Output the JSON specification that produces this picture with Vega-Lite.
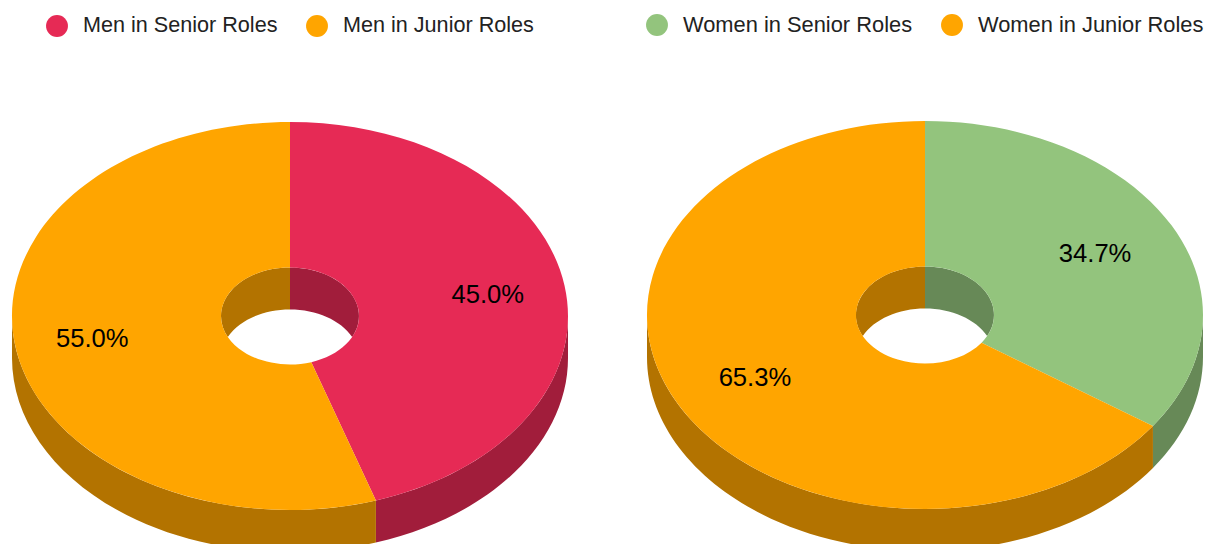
{"$schema":"https://vega.github.io/schema/vega-lite/v6.json","width":1205,"height":544,"padding":0,"autosize":"none","background":"white","config":{"view":{"stroke":null},"font":"Liberation Sans"},
"data":{"values":[
{"pie":"Men","role":"Men in Senior Roles","kind":"senior","share":0.45},
{"pie":"Men","role":"Men in Junior Roles","kind":"junior","share":0.55},
{"pie":"Women","role":"Women in Senior Roles","kind":"senior","share":0.347},
{"pie":"Women","role":"Women in Junior Roles","kind":"junior","share":0.653}]},
"transform":[
{"calculate":"datum.pie=='Men'?290:925","as":"cx"},
{"calculate":"datum.pie=='Men'?316:315","as":"cy"},
{"calculate":"datum.kind=='senior'?0:(1-datum.share)*2*PI","as":"a"},
{"calculate":"datum.kind=='senior'?datum.share*2*PI:2*PI","as":"b"},
{"calculate":"(datum.b-datum.a)>PI?1:0","as":"large"},
{"calculate":"'M'+round(27800*sin(datum.a))/100+' '+round(-19400*cos(datum.a))/100+'A278 194 0 '+datum.large+' 1 '+round(27800*sin(datum.b))/100+' '+round(-19400*cos(datum.b))/100+'L'+round(6900*sin(datum.b))/100+' '+round(-4850*cos(datum.b))/100+'A69 48.5 0 '+datum.large+' 0 '+round(6900*sin(datum.a))/100+' '+round(-4850*cos(datum.a))/100+'Z'","as":"facePath"},
{"calculate":"max(datum.a,PI/2)","as":"w0"},
{"calculate":"min(datum.b,3*PI/2)","as":"w1"},
{"calculate":"'M'+round(27800*sin(datum.w0))/100+' '+round(-19400*cos(datum.w0))/100+'A278 194 0 0 1 '+round(27800*sin(datum.w1))/100+' '+round(-19400*cos(datum.w1))/100+'L'+round(27800*sin(datum.w1))/100+' '+(round(-19400*cos(datum.w1))/100+42)+'A278 194 0 0 0 '+round(27800*sin(datum.w0))/100+' '+(round(-19400*cos(datum.w0))/100+42)+'Z'","as":"wallPath"},
{"calculate":"datum.kind=='senior'?'M0 -48.5A69 48.5 0 0 1 62.2 21A69 48.5 0 0 0 0 -6.5Z':'M0 -48.5A69 48.5 0 0 0 -62.2 21A69 48.5 0 0 1 0 -6.5Z'","as":"holePath"},
{"calculate":"(datum.a+datum.b)/2","as":"mid"},
{"calculate":"datum.pie=='Men'?0.72:0.69","as":"labelRadius"},
{"calculate":"datum.cx+datum.labelRadius*278*sin(datum.mid)","as":"lx"},
{"calculate":"datum.cy-datum.labelRadius*194*cos(datum.mid)","as":"ly"}
],
"encoding":{
"x":{"field":"cx","type":"quantitative","scale":{"domain":[0,1205],"nice":false,"zero":false},"axis":null},
"y":{"field":"cy","type":"quantitative","scale":{"domain":[544,0],"nice":false,"zero":false},"axis":null}
},
"layer":[
{"mark":{"type":"point","filled":true,"opacity":1,"strokeWidth":0,"size":4},
"encoding":{"shape":{"field":"wallPath","type":"nominal","scale":null,"legend":null},
"fill":{"field":"role","type":"nominal","legend":null,"scale":{"domain":["Men in Senior Roles","Men in Junior Roles","Women in Senior Roles","Women in Junior Roles"],"range":["#A11D3B","#B37300","#678957","#B37300"]}}}},
{"mark":{"type":"point","filled":true,"opacity":1,"strokeWidth":0,"size":4},
"encoding":{"shape":{"field":"holePath","type":"nominal","scale":null,"legend":null},
"fill":{"field":"role","type":"nominal","legend":null,"scale":{"domain":["Men in Senior Roles","Men in Junior Roles","Women in Senior Roles","Women in Junior Roles"],"range":["#A11D3B","#B37300","#678957","#B37300"]}}}},
{"transform":[{"filter":"datum.pie=='Men'"}],"mark":{"type":"point","filled":true,"opacity":1,"strokeWidth":0,"size":4},
"encoding":{"shape":{"field":"facePath","type":"nominal","scale":null,"legend":null},
"color":{"field":"role","type":"nominal","scale":{"domain":["Men in Senior Roles","Men in Junior Roles"],"range":["#E62A55","#FFA500"]},
"legend":{"title":null,"orient":"none","legendX":46,"legendY":15,"direction":"horizontal","symbolType":"circle","symbolSize":480,"symbolOpacity":1,"symbolStrokeWidth":0,"labelFont":"Liberation Sans","labelFontSize":21.6,"labelColor":"#222222","labelOffset":15,"columnPadding":28,"labelLimit":400}}}},
{"transform":[{"filter":"datum.pie=='Women'"}],"mark":{"type":"point","filled":true,"opacity":1,"strokeWidth":0,"size":4},
"encoding":{"shape":{"field":"facePath","type":"nominal","scale":null,"legend":null},
"color":{"field":"role","type":"nominal","scale":{"domain":["Women in Senior Roles","Women in Junior Roles"],"range":["#93C47D","#FFA500"]},
"legend":{"title":null,"orient":"none","legendX":646,"legendY":14,"direction":"horizontal","symbolType":"circle","symbolSize":480,"symbolOpacity":1,"symbolStrokeWidth":0,"labelFont":"Liberation Sans","labelFontSize":21.85,"labelColor":"#222222","labelOffset":15,"columnPadding":28,"labelLimit":400}}}},
{"mark":{"type":"text","font":"Liberation Sans","fontSize":25.6,"color":"#000000","align":"center","baseline":"middle","dy":1},
"encoding":{"x":{"field":"lx","type":"quantitative"},"y":{"field":"ly","type":"quantitative"},"text":{"field":"share","type":"quantitative","format":".1%"}}}
],
"resolve":{"scale":{"color":"independent"},"legend":{"color":"independent"}}}
